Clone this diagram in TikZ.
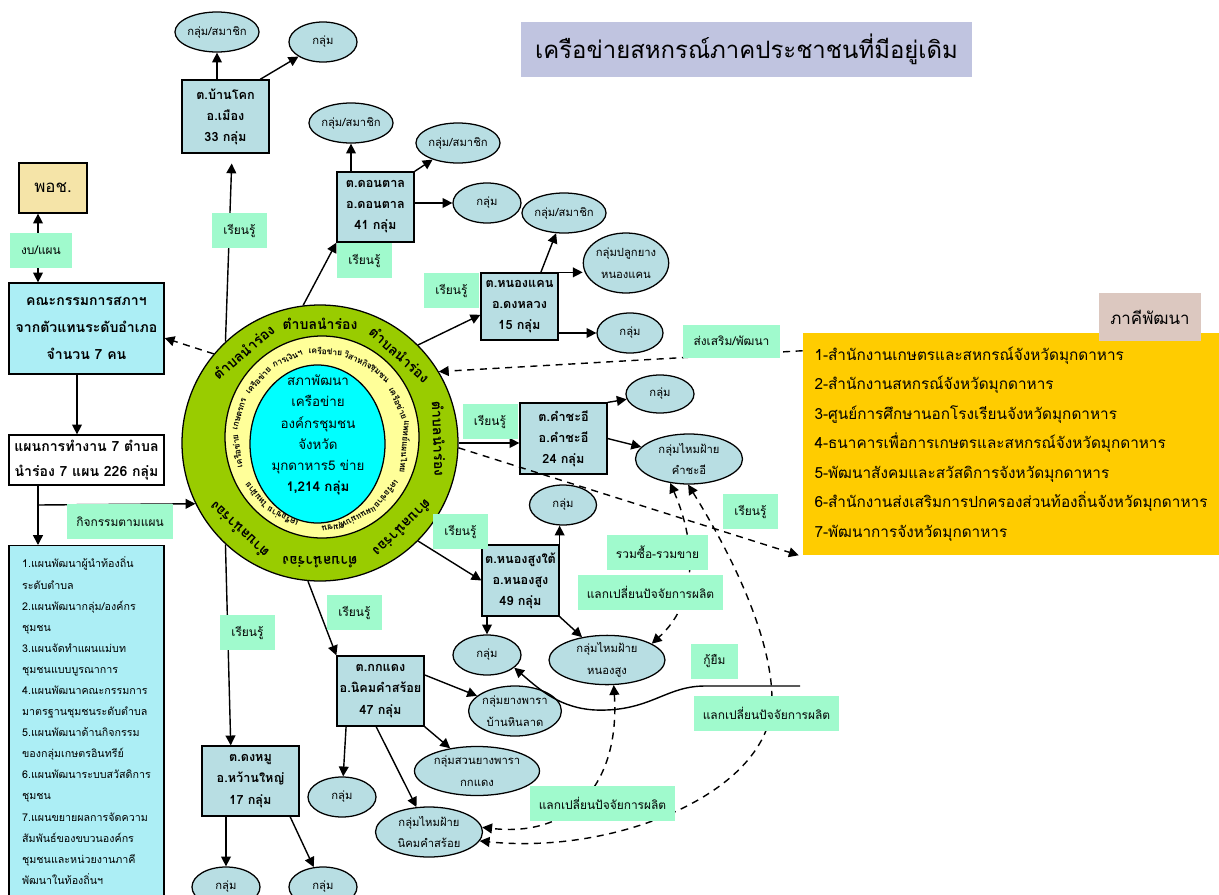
\documentclass[tikz,border=0pt]{standalone}
\usepackage{fontspec}
\setmainfont[Script=Thai]{Loma}
\usetikzlibrary{shapes, positioning, calc, arrows.meta}

\definecolor{grpblue}{RGB}{184,222,227}
\definecolor{mint}{RGB}{160,250,205}
\definecolor{cyanbox}{RGB}{172,238,245}
\definecolor{titleblue}{RGB}{192,196,224}
\definecolor{podyellow}{RGB}{245,228,168}
\definecolor{partnerrose}{RGB}{220,200,192}
\definecolor{gold}{RGB}{255,204,0}
\definecolor{ringgreen}{RGB}{153,204,0}
\definecolor{ringyellow}{RGB}{255,255,153}
\definecolor{hubcyan}{RGB}{0,255,255}

\begin{document}
\begin{tikzpicture}[x=0.025cm, y=-0.025cm,
  every node/.style={inner sep=0pt},
  sz/.style 2 args={minimum width=#1*0.025cm, minimum height=#2*0.025cm},
  tambon/.style={draw, line width=0.9pt, fill=grpblue, align=center, font=\bfseries\fontsize{9}{15}\selectfont},
  grp/.style={ellipse, draw, line width=0.9pt, fill=grpblue, align=center, font=\fontsize{8}{15.5}\selectfont},
  tag/.style={fill=mint, font=\fontsize{8.5}{12}\selectfont},
  arr/.style={-{Triangle[length=7pt, width=7pt]}, line width=1pt},
  both/.style={{Triangle[length=7pt, width=7pt]}-{Triangle[length=7pt, width=7pt]}, line width=1pt},
  dashline/.style={dash pattern=on 5pt off 4pt}]
  \useasboundingbox (0,0) rectangle (1219,895);

  \node[fill=titleblue, sz={451}{55}, font=\fontsize{17}{20}\selectfont] (title) at (746.5,49.5) {เครือข่ายสหกรณ์ภาคประชาชนที่มีอยู่เดิม};

  % left column
  \node[draw, line width=0.9pt, fill=podyellow, sz={68}{50}, font=\fontsize{12}{14}\selectfont] (pod) at (53,188) {พอช.};
  \node[draw, line width=0.9pt, fill=cyanbox, sz={155}{91}, align=center, font=\bfseries\fontsize{10}{19}\selectfont] (board) at (86.5,328.5) {คณะกรรมการสภาฯ\\จากตัวแทนระดับอำเภอ\\จำนวน 7 คน};
  \node[draw, line width=0.9pt, fill=white, sz={155}{50}, align=center, font=\bfseries\fontsize{10}{18}\selectfont] (plan) at (86.5,460) {แผนการทำงาน 7 ตำบล\\นำร่อง 7 แผน 226 กลุ่ม};
  \node[draw, line width=0.9pt, fill=cyanbox, sz={155}{350}, anchor=north, align=left, font=\fontsize{7.6}{15}\selectfont] (plans) at (86.5,545) {1.แผนพัฒนาผู้นำท้องถิ่น\\ระดับตำบล\\2.แผนพัฒนากลุ่ม/องค์กร\\ชุมชน\\3.แผนจัดทำแผนแม่บท\\ชุมชนแบบบูรณาการ\\4.แผนพัฒนาคณะกรรมการ\\มาตรฐานชุมชนระดับตำบล\\5.แผนพัฒนาด้านกิจกรรม\\ของกลุ่มเกษตรอินทรีย์\\6.แผนพัฒนาระบบสวัสดิการ\\ชุมชน\\7.แผนขยายผลการจัดความ\\สัมพันธ์ของขบวนองค์กร\\ชุมชนและหน่วยงานภาคี\\พัฒนาในท้องถิ่นฯ};

  % network circle
  \node[circle, draw, line width=0.9pt, fill=ringgreen, minimum size=276*0.025cm] (hub) at (320,443) {};
  \node[ellipse, draw, line width=0.9pt, fill=ringyellow, sz={194}{202}] (netring) at (322,437) {};
  \node[ellipse, draw, line width=0.9pt, fill=hubcyan, sz={135}{158}] (council) at (317.5,444) {};
  \node[align=center, font=\fontsize{9.5}{15}\selectfont] (council-txt) at (318,435) {สภาพัฒนา\\เครือข่าย\\องค์กรชุมชน\\จังหวัด\\มุกดาหาร5 ข่าย\\\textbf{1,214 กลุ่ม}};
  \begin{scope}[shift={(hub.center)}, y=0.025cm]
    \foreach \a [count=\i] in {90, 130, 48, 2, -46, -90, -133}
      \node[font=\bfseries\fontsize{10}{12}\selectfont, rotate=\a-90] (pilot\i) at (\a:119) {ตำบลนำร่อง};
  \end{scope}
  \begin{scope}[shift={(321,439)}, y=0.025cm]
    \foreach \a/\word [count=\i] in {188/เครือข่าย, 163.5/เกษตรกร, 138/เครือข่าย, 113.5/การเงินฯ, 87/เครือข่าย, 64/วิสาหกิจ, 47/ชุมชน, 24/เครือข่าย, -5/แพทย์แผนไทย, -39/เครือข่าย, -63.5/แผนแม่บท, -82/ชุมชน, -117/เครือข่าย, -140/ไหมฝ้าย}
      \node[font=\bfseries\fontsize{6}{7}\selectfont, rotate=\a-90] (net\i) at (\a:85 and 88) {\word};
  \end{scope}

  % tambons and their groups
  \node[tambon, sz={87}{73}] (tb1) at (225.5,116.5) {ต.บ้านโคก\\อ.เมือง\\33 กลุ่ม};
  \node[grp, sz={68}{40}] (tb1-1) at (217,32) {กลุ่ม/สมาชิก};
  \node[grp, sz={68}{40}] (tb1-2) at (323,42) {กลุ่ม};

  \node[tambon, sz={77}{70}] (tb2) at (375.5,207) {ต.ดอนตาล\\อ.ดอนตาล\\41 กลุ่ม};
  \node[grp, sz={69}{40}] (tb2-1) at (351,123) {กลุ่ม/สมาชิก};
  \node[grp, sz={69}{40}] (tb2-2) at (458,143) {กลุ่ม/สมาชิก};
  \node[grp, sz={68}{40}] (tb2-3) at (487,203) {กลุ่ม};

  \node[tambon, sz={77}{67}] (tb3) at (519.5,306.5) {ต.หนองแคน\\อ.ดงหลวง\\15 กลุ่ม};
  \node[grp, sz={68}{40}] (tb3-1) at (564,213) {กลุ่ม/สมาชิก};
  \node[grp, sz={78}{60}] (tb3-2) at (626,263) {กลุ่มปลูกยาง\\หนองแคน};
  \node[grp, sz={66}{40}] (tb3-3) at (630,333) {กลุ่ม};

  \node[tambon, sz={87}{71}] (tb4) at (563.5,438.5) {ต.คำชะอี\\อ.คำชะอี\\24 กลุ่ม};
  \node[grp, sz={68}{38}] (tb4-1) at (660,394) {กลุ่ม};
  \node[grp, sz={107}{50}] (tb4-2) at (689,459) {กลุ่มไหมฝ้าย\\คำชะอี};

  \node[tambon, sz={77}{71}] (tb5) at (520.5,580.5) {ต.หนองสูงใต้\\อ.หนองสูง\\49 กลุ่ม};
  \node[grp, sz={67}{40}] (tb5-1) at (563,505) {กลุ่ม};
  \node[grp, sz={68}{40}] (tb5-2) at (487,655) {กลุ่ม};
  \node[grp, sz={116}{49}] (tb5-3) at (607,660) {กลุ่มไหมฝ้าย\\หนองสูง};

  \node[tambon, sz={87}{70}] (tb6) at (380.5,691) {ต.กกแดง\\อ.นิคมคำสร้อย\\47 กลุ่ม};
  \node[grp, sz={87}{50}] (tb6-1) at (515,711) {กลุ่มยางพารา\\บ้านหินลาด};
  \node[grp, sz={125}{49}] (tb6-2) at (477,771) {กลุ่มสวนยางพารา\\กกแดง};
  \node[grp, sz={68}{40}] (tb6-3) at (342,797) {กลุ่ม};
  \node[grp, sz={107}{50}] (tb6-4) at (429,832) {กลุ่มไหมฝ้าย\\นิคมคำสร้อย};

  \node[tambon, sz={97}{70}] (tb7) at (250.5,781) {ต.ดงหมู\\อ.หว้านใหญ่\\17 กลุ่ม};
  \node[grp, sz={68}{40}] (tb7-1) at (226,887) {กลุ่ม};
  \node[grp, sz={68}{40}] (tb7-2) at (323,887) {กลุ่ม};

  % development partners
  \node[fill=gold, sz={416}{222}, align=left, font=\fontsize{10.9}{21}\selectfont] (devbox) at (1011,444) {1-สำนักงานเกษตรและสหกรณ์จังหวัดมุกดาหาร\\2-สำนักงานสหกรณ์จังหวัดมุกดาหาร\\3-ศูนย์การศึกษานอกโรงเรียนจังหวัดมุกดาหาร\\4-ธนาคารเพื่อการเกษตรและสหกรณ์จังหวัดมุกดาหาร\\5-พัฒนาสังคมและสวัสดิการจังหวัดมุกดาหาร\\6-สำนักงานส่งเสริมการปกครองส่วนท้องถิ่นจังหวัดมุกดาหาร\\7-พัฒนาการจังหวัดมุกดาหาร};
  \node[fill=partnerrose, sz={102}{48}, font=\fontsize{12}{14}\selectfont] (partner) at (1150,317) {ภาคีพัฒนา};

  % connectors
  \coordinate (split) at (38,505);
  \coordinate (stem) at (77,0);
  \coordinate (loan) at (800,686);
  \draw[both] (pod.south -| split) -- (board.north -| split);
  \draw[arr] (board.south -| stem) -- (plan.north -| stem);
  \draw[arr] (plan.south -| split) -- (plans.north -| split);
  \draw[arr] (split) -- (hub.206.7);
  \draw[arr, dashline] (hub.140) -- (board.-7);

  \draw[arr, shorten >=7pt] (hub.133) -- (tb1.-80);
  \draw[arr] (hub.97) -- (tb2.south west);
  \draw[arr] (hub.45) -- (tb3.192);
  \draw[arr] (hub.east) -- (hub.east -| tb4.west);
  \draw[arr] (hub.-45) -- (tb5.west);
  \draw[arr] (hub.-95) -- (tb6.north west);
  \draw[arr] (hub.-133) -- (tb7.119);
  \draw[arr, dashline] ([yshift=-0.45cm]devbox.north west) -- (hub.31);
  \draw[arr, dashline] (hub.-2) -- ([xshift=-0.1cm]devbox.south west);

  \draw[arr] (tb1.north -| tb1-1) -- (tb1-1);
  \draw[arr] (tb1.47) -- (tb1-2);
  \draw[arr] (tb2.north -| tb2-1) -- (tb2-1);
  \draw[arr] (tb2.north east) -- (tb2-2);
  \draw[arr] (tb2.east |- tb2-3) -- (tb2-3);
  \draw[arr] (tb3.58) -- (tb3-1);
  \draw[arr] (tb3.north east) -- (tb3.north east -| tb3-2.west);
  \draw[arr] (tb3.east |- tb3-3) -- (tb3-3);
  \draw[arr] (tb4.north east) -- (tb4-1);
  \draw[arr] (tb4.east) -- (tb4-2);
  \draw[arr] (tb5.north east) -- (tb5.north east |- tb5-1.south);
  \draw[arr] (tb5.south -| tb5-2) -- (tb5-2);
  \draw[arr] (tb5.south east) -- (tb5-3);
  \draw[arr] (tb6.20) -- (tb6-1);
  \draw[arr] (tb6.south east) -- (tb6-2);
  \draw[arr] (tb6.226) -- (tb6-3);
  \draw[arr] (tb6.263) -- (tb6-4);
  \draw[arr] (tb7.south -| tb7-1) -- (tb7-1);
  \draw[arr] (tb7.-42) -- (tb7-2);

  \draw[both, dashline] (tb4-2.-128) .. controls (695,540) and (700,600) .. (tb5-3.20);
  \draw[both, dashline] (tb4-2.-92) .. controls (735,560) and (772,640) .. (772,700) .. controls (772,790) and (620,855) .. (tb6-4.-10);
  \draw[both, dashline] (tb5-3.-75) .. controls (620,780) and (575,838) .. (tb6-4.5);
  \draw[arr] (loan) -- (705,686) .. controls (665,686) and (650,712) .. (595,710) .. controls (560,708) and (540,690) .. (tb5-2.-25);

  % labels on the connectors
  \node[tag, sz={62}{35}] (budget) at (41,250.5) {งบ/แผน};
  \node[tag, sz={106}{35}] (activity) at (120,521.5) {กิจกรรมตามแผน};
  \node[tag, sz={97}{33}] (support) at (731.5,341) {ส่งเสริม/พัฒนา};
  \node[tag, sz={101}{35}] (jointbuy) at (657.5,552.5) {รวมซื้อ-รวมขาย};
  \node[tag, sz={47}{35}] (borrow) at (714.5,661.5) {กู้ยืม};
  \foreach \x/\y [count=\i] in {650.5/592.5, 766.5/713.5, 602.5/803.5}
    \node[tag, sz={145}{35}] (swap\i) at (\x,\y) {แลกเปลี่ยนปัจจัยการผลิต};
  \foreach \x/\y [count=\i] in {239.5/230.5, 364.5/260.5, 451.5/290.5, 490/421.5, 460.5/531.5, 354.5/612.5, 247.5/632.5, 750.5/511.5}
    \node[tag, sz={55}{35}] (learn\i) at (\x,\y) {เรียนรู้};
\end{tikzpicture}
\end{document}
